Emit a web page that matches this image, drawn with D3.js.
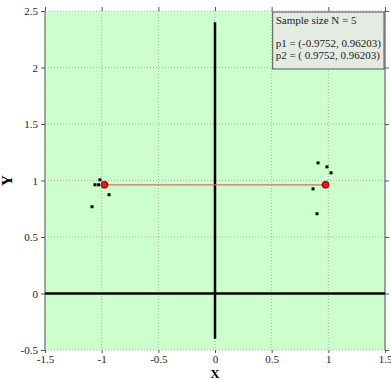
<!DOCTYPE html>
<html lang="en">
<head>
    <meta charset="UTF-8">
    <title>Sample points</title>
    <script src="https://d3js.org/d3.v7.min.js"></script>
    <style>
        body { margin: 0; background: #fff; }
        .axis path { stroke: #888; }
        .axis line { stroke: #555; }
        .axis text {
            font-family: "Liberation Serif", serif;
            font-size: 11px;
            fill: #222;
        }
        .grid line {
            stroke: #aaa;
            stroke-dasharray: 1,2;
        }
    </style>
</head>
<body>
<svg width="391" height="380"></svg>
<script>
    // Sample clouds
    const leftX = [-1.015, -1.059, -1.027, -0.935, -1.085];
    const leftY = [1.006, 0.962, 0.962, 0.874, 0.768];
    const rightX = [0.909, 0.988, 1.024, 0.865, 0.900];
    const rightY = [1.156, 1.121, 1.068, 0.926, 0.706];

    // Fitted points
    const pointX = [-0.9752, 0.9752];
    const pointY = [0.96203, 0.96203];

    const ticks = [-1.5, -1, -0.5, 0, 0.5, 1, 1.5];
    const yTicks = [-0.5, 0, 0.5, 1, 1.5, 2, 2.5];
    const legendLines = ["Sample size N = 5", "", "p1 = (-0.9752, 0.96203)", "p2 = ( 0.9752, 0.96203)"];

    const margin = {top: 11, right: 6, bottom: 30, left: 45},
        width = 391 - margin.left - margin.right,
        height = 380 - margin.top - margin.bottom;

    const x = d3.scaleLinear().domain([-1.5, 1.5]).range([0, width]);
    const y = d3.scaleLinear().domain([-0.5, 2.5]).range([height, 0]);

    const svg = d3.select("svg")
        .append("g")
        .attr("transform", "translate(" + margin.left + "," + margin.top + ")");

    // background
    svg.append("rect")
        .attr("width", width).attr("height", height)
        .attr("fill", "#ccffcc");

    // grid
    const grid = svg.append("g").attr("class", "grid");
    grid.selectAll(".gx").data(ticks).enter().append("line")
        .attr("x1", d => x(d)).attr("x2", d => x(d))
        .attr("y1", 0).attr("y2", height);
    grid.selectAll(".gy").data(yTicks).enter().append("line")
        .attr("y1", d => y(d)).attr("y2", d => y(d))
        .attr("x1", 0).attr("x2", width);

    // side borders
    svg.append("line").attr("x1", 0).attr("x2", 0).attr("y1", 0).attr("y2", height)
        .attr("stroke", "#888").attr("stroke-width", 1.5);
    svg.append("line").attr("x1", width).attr("x2", width).attr("y1", 0).attr("y2", height)
        .attr("stroke", "#888").attr("stroke-width", 1.5);

    // axes (plain hyphen for negatives, like the original)
    const fmt = d => String(d);
    svg.append("g")
        .attr("class", "x axis")
        .attr("transform", "translate(0," + height + ")")
        .call(d3.axisBottom(x).tickValues(ticks).tickSize(3).tickPadding(2).tickFormat(fmt))
        .call(g => g.select(".domain").remove());
    svg.append("g")
        .attr("class", "x axis")
        .call(d3.axisTop(x).tickValues(ticks).tickSize(4).tickFormat(""))
        .call(g => g.select(".domain").remove());
    svg.append("g")
        .attr("class", "y axis")
        .call(d3.axisLeft(y).tickValues(yTicks).tickSize(4).tickFormat(fmt))
        .call(g => g.select(".domain").remove());
    svg.append("g")
        .attr("class", "y axis")
        .attr("transform", "translate(" + width + ",0)")
        .call(d3.axisRight(y).tickValues(yTicks).tickSize(4).tickFormat(""))
        .call(g => g.select(".domain").remove());

    // cross lines
    svg.append("line")
        .attr("x1", x(-1.5)).attr("x2", x(1.5))
        .attr("y1", y(0)).attr("y2", y(0))
        .attr("stroke", "#000").attr("stroke-width", 2.5);
    svg.append("line")
        .attr("x1", x(0)).attr("x2", x(0))
        .attr("y1", y(-0.4)).attr("y2", y(2.4))
        .attr("stroke", "#000").attr("stroke-width", 2.5);

    // sample dots
    const samples = leftX.map((v, i) => [v, leftY[i]])
        .concat(rightX.map((v, i) => [v, rightY[i]]));
    svg.selectAll(".dot").data(samples).enter().append("rect")
        .attr("x", d => x(d[0]) - 1.5).attr("y", d => y(d[1]) - 1.5)
        .attr("width", 3).attr("height", 3)
        .attr("fill", "#000");

    // connecting line
    svg.append("line")
        .attr("x1", x(pointX[0])).attr("x2", x(pointX[1]))
        .attr("y1", y(pointY[0])).attr("y2", y(pointY[1]))
        .attr("stroke", "#c8785a").attr("stroke-width", 1.2);

    svg.selectAll(".pt").data(pointX).enter().append("circle")
        .attr("cx", d => x(d)).attr("cy", (d, i) => y(pointY[i]))
        .attr("r", 3.5)
        .attr("fill", "#e8141a").attr("stroke", "#600").attr("stroke-width", 0.8);

    // legend
    const lg = svg.append("g").attr("transform", "translate(" + (x(0.5) + 1) + ",1)");
    lg.append("rect")
        .attr("width", x(1.5) - x(0.5) - 2).attr("height", 57)
        .attr("fill", "#e3ebe3").attr("stroke", "#555").attr("stroke-width", 1);
    lg.selectAll("text").data(legendLines).enter().append("text")
        .attr("x", 3).attr("y", (d, i) => 12 + i * 11.5)
        .attr("font-family", "Liberation Serif, serif").attr("font-size", 11)
        .attr("fill", "#222")
        .text(d => d);

    // axis titles
    svg.append("text")
        .attr("x", x(0)).attr("y", height + 27.5)
        .attr("text-anchor", "middle")
        .attr("font-family", "Liberation Serif, serif").attr("font-size", 13)
        .attr("font-weight", "bold")
        .text("X");
    svg.append("text")
        .attr("transform", "translate(" + (-33) + "," + y(1) + ") rotate(-90)")
        .attr("text-anchor", "middle")
        .attr("font-family", "Liberation Serif, serif").attr("font-size", 15)
        .attr("font-weight", "bold")
        .text("Y");
</script>
</body>
</html>
